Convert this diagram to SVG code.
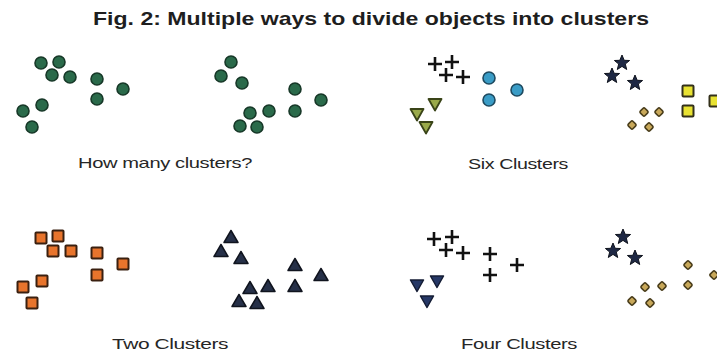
<svg xmlns="http://www.w3.org/2000/svg" xmlns:xlink="http://www.w3.org/1999/xlink" width="717" height="353" viewBox="0 0 717 353">
<style>
.title{font-family:"Liberation Sans",Arial,sans-serif;font-weight:bold;font-size:19px;fill:#1e1e1e}
.lbl{font-family:"Liberation Sans",Arial,sans-serif;font-size:15px;fill:#262626;letter-spacing:-0.3px}
</style>
<defs>
<circle id="gc" r="6" fill="#2a6a4a" stroke="#173828" stroke-width="1.6"/>
<circle id="bc" r="6" fill="#3a9cc6" stroke="#1e4a60" stroke-width="1.6"/>
<path id="pl" d="M-7 0H7M0 -7V7" stroke="#111" stroke-width="2.6" fill="none"/>
<path id="ot" d="M-6.5 -5H6.5L0 6.5Z" fill="#9aaa4a" stroke="#3a4418" stroke-width="1.8" stroke-linejoin="round"/>
<path id="nt" d="M-6.5 -5H6.5L0 6.5Z" fill="#263866" stroke="#141c34" stroke-width="1.5" stroke-linejoin="round"/>
<path id="ut" d="M-7 5.5H7L0 -6.5Z" fill="#263048" stroke="#10141e" stroke-width="1.5" stroke-linejoin="round"/>
<path id="st" d="M0,-8 L2.2,-2.7 7.6,-2.5 3.3,1 4.7,6.5 0,3.4 -4.7,6.5 -3.3,1 -7.6,-2.5 -2.2,-2.7Z" fill="#1e2844" stroke="#10141e" stroke-width="1" stroke-linejoin="round"/>
<rect id="ys" x="-5.5" y="-5.5" width="11" height="11" rx="1" fill="#e8e232" stroke="#33301a" stroke-width="2"/>
<rect id="os" x="-5.5" y="-5.5" width="11" height="11" rx="0.8" fill="#e8742c" stroke="#3a2010" stroke-width="2"/>
<rect id="dm" x="-3.3" y="-3.3" width="6.6" height="6.6" rx="1.6" transform="rotate(45)" fill="#c8a85a" stroke="#4a3e1c" stroke-width="1.6"/>
</defs>
<rect width="717" height="353" fill="#fff"/>
<text class="title" x="371" y="25" text-anchor="middle" textLength="556" lengthAdjust="spacingAndGlyphs">Fig. 2: Multiple ways to divide objects into clusters</text>

<g id="panel-how-many-a">
<use href="#gc" x="41" y="63"/><use href="#gc" x="59" y="62"/><use href="#gc" x="52" y="75"/><use href="#gc" x="70" y="77"/>
<use href="#gc" x="97" y="79"/><use href="#gc" x="123" y="89"/><use href="#gc" x="97" y="99"/>
<use href="#gc" x="42" y="105"/><use href="#gc" x="23" y="111"/><use href="#gc" x="32" y="127"/>
</g>
<g id="panel-how-many-b">
<use href="#gc" x="231" y="62"/><use href="#gc" x="221" y="76"/><use href="#gc" x="242" y="83"/>
<use href="#gc" x="295" y="89"/><use href="#gc" x="321" y="100"/><use href="#gc" x="295" y="111"/>
<use href="#gc" x="269" y="111"/><use href="#gc" x="250" y="113"/><use href="#gc" x="240" y="126"/><use href="#gc" x="257" y="127"/>
</g>
<text class="lbl" x="165" y="168" text-anchor="middle" textLength="174" lengthAdjust="spacingAndGlyphs">How many clusters?</text>

<g id="panel-six-a">
<use href="#pl" x="435" y="64"/><use href="#pl" x="452" y="62"/><use href="#pl" x="446" y="75"/><use href="#pl" x="463" y="77"/>
<use href="#bc" x="489" y="78"/><use href="#bc" x="517" y="90"/><use href="#bc" x="489" y="100"/>
<use href="#ot" x="435" y="104"/><use href="#ot" x="417" y="114"/><use href="#ot" x="426" y="127"/>
</g>
<g id="panel-six-b">
<use href="#st" x="622" y="63"/><use href="#st" x="612" y="76"/><use href="#st" x="635" y="83"/>
<use href="#ys" x="688" y="91"/><use href="#ys" x="688" y="111"/><use href="#ys" x="715" y="101"/>
<use href="#dm" x="644" y="112"/><use href="#dm" x="659" y="112"/><use href="#dm" x="632" y="125"/><use href="#dm" x="649" y="127"/>
</g>
<text class="lbl" x="518" y="169" text-anchor="middle" textLength="100" lengthAdjust="spacingAndGlyphs">Six Clusters</text>

<g id="panel-two-a">
<use href="#os" x="41" y="238"/><use href="#os" x="58" y="236"/><use href="#os" x="53" y="251"/><use href="#os" x="71" y="251"/>
<use href="#os" x="97" y="253"/><use href="#os" x="123" y="264"/><use href="#os" x="97" y="275"/>
<use href="#os" x="42" y="281"/><use href="#os" x="23" y="287"/><use href="#os" x="32" y="303"/>
</g>
<g id="panel-two-b">
<use href="#ut" x="231" y="237"/><use href="#ut" x="221" y="251"/><use href="#ut" x="241" y="258"/>
<use href="#ut" x="295" y="265"/><use href="#ut" x="321" y="275"/><use href="#ut" x="295" y="286"/>
<use href="#ut" x="268" y="286"/><use href="#ut" x="250" y="288"/><use href="#ut" x="239" y="301"/><use href="#ut" x="257" y="303"/>
</g>
<text class="lbl" x="170" y="349" text-anchor="middle" textLength="116" lengthAdjust="spacingAndGlyphs">Two Clusters</text>

<g id="panel-four-a">
<use href="#pl" x="434" y="239"/><use href="#pl" x="452" y="237"/><use href="#pl" x="446" y="250"/><use href="#pl" x="463" y="253"/>
<use href="#pl" x="490" y="254"/><use href="#pl" x="517" y="265"/><use href="#pl" x="490" y="275"/>
<use href="#nt" x="437" y="281"/><use href="#nt" x="417" y="285"/><use href="#nt" x="427" y="301"/>
</g>
<g id="panel-four-b">
<use href="#st" x="623" y="237"/><use href="#st" x="613" y="251"/><use href="#st" x="635" y="258"/>
<use href="#dm" x="688" y="265"/><use href="#dm" x="688" y="285"/><use href="#dm" x="714" y="275"/>
<use href="#dm" x="645" y="287"/><use href="#dm" x="662" y="286"/><use href="#dm" x="632" y="301"/><use href="#dm" x="650" y="303"/>
</g>
<text class="lbl" x="519" y="349" text-anchor="middle" textLength="116" lengthAdjust="spacingAndGlyphs">Four Clusters</text>
<g id="connectors"/>
</svg>
